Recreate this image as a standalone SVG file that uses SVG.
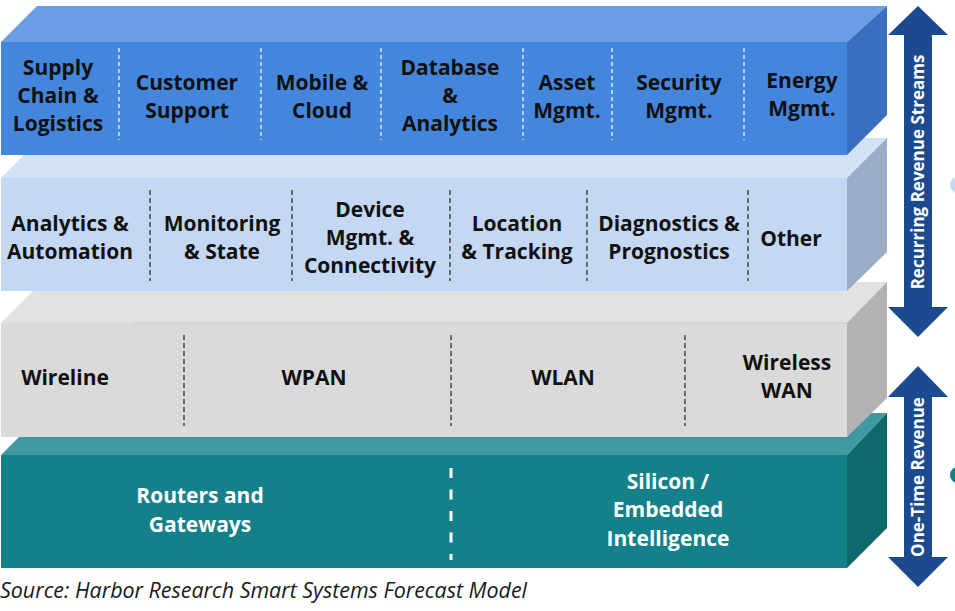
<svg xmlns="http://www.w3.org/2000/svg" width="955" height="611" viewBox="0 0 955 611">
<style>
  .lbl{font-family:"Open Sans","Liberation Sans",sans-serif;font-weight:bold;font-size:21px;fill:#111;text-anchor:middle}
  .wl{fill:#fff}
  .arr{fill:#1b4b8e}
  .atxt{font-family:"Open Sans","Liberation Sans",sans-serif;font-weight:bold;font-size:17px;fill:#fff;text-anchor:middle}
  .dw{stroke:#fff;stroke-width:1.2;stroke-dasharray:4 3;fill:none}
  .dk{stroke:#222;stroke-width:1.2;stroke-dasharray:5 3;fill:none}
  .dt{stroke:#fff;stroke-width:3;stroke-dasharray:10 11.5;fill:none}
  .src{font-family:"Open Sans","Liberation Sans",sans-serif;font-style:italic;font-size:22px;fill:#1a1a1a}
</style>
<rect width="955" height="611" fill="#fff"/>

<!-- dots at right edge -->
<circle cx="958" cy="185" r="8" fill="#c4d8f3"/>
<circle cx="958" cy="475" r="8" fill="#14808a"/>

<!-- Teal layer (bottom) -->
<g id="layer-hardware">
  <polygon points="1,455 43,413 887,413 847,455" fill="#4099a0"/>
  <polygon points="847,455 887,413 887,528 847,568" fill="#0e686c"/>
  <rect x="1" y="455" width="846" height="113" fill="#14808a"/>
  <line class="dt" x1="451" y1="468" x2="451" y2="560"/>
  <g id="node-routers"><text class="lbl wl" x="200"><tspan x="200" y="503">Routers and</tspan><tspan x="200" y="532">Gateways</tspan></text></g>
  <g id="node-silicon"><text class="lbl wl"><tspan x="668" y="489">Silicon /</tspan><tspan x="668" y="517">Embedded</tspan><tspan x="668" y="546">Intelligence</tspan></text></g>
</g>

<!-- Gray layer -->
<g id="layer-network">
  <polygon points="1,323 42,282 887,282 847,323" fill="#e2e2e2"/>
  <polygon points="847,323 887,282 887,398 847,437" fill="#b2b2b2"/>
  <rect x="1" y="323" width="846" height="114" fill="#dadada"/>
  <line x1="133" y1="323" x2="847" y2="323" stroke="#c9cfd4" stroke-width="1"/>
  <line class="dk" x1="184" y1="335" x2="184" y2="426"/>
  <line class="dk" x1="451" y1="335" x2="451" y2="426"/>
  <line class="dk" x1="685" y1="335" x2="685" y2="426"/>
  <g id="node-wireline"><text class="lbl" x="65" y="385">Wireline</text></g>
  <g id="node-wpan"><text class="lbl" x="314" y="385">WPAN</text></g>
  <g id="node-wlan"><text class="lbl" x="563" y="385">WLAN</text></g>
  <g id="node-wwan"><text class="lbl"><tspan x="787" y="370">Wireless</tspan><tspan x="787" y="398">WAN</tspan></text></g>
</g>

<!-- Light blue layer -->
<g id="layer-services">
  <polygon points="1,178 41,138 887,138 847,178" fill="#d1e1f6"/>
  <polygon points="847,178 887,138 887,252 847,291" fill="#9aacc6"/>
  <rect x="1" y="178" width="846" height="113" fill="#c4d8f3"/>
  <line class="dk" x1="150" y1="190" x2="150" y2="281"/>
  <line class="dk" x1="292" y1="190" x2="292" y2="281"/>
  <line class="dk" x1="450" y1="190" x2="450" y2="281"/>
  <line class="dk" x1="587" y1="190" x2="587" y2="281"/>
  <line class="dk" x1="748" y1="190" x2="748" y2="281"/>
  <g id="node-analytics-automation"><text class="lbl"><tspan x="70" y="231">Analytics &amp;</tspan><tspan x="70" y="259">Automation</tspan></text></g>
  <g id="node-monitoring"><text class="lbl"><tspan x="222" y="231">Monitoring</tspan><tspan x="222" y="259">&amp; State</tspan></text></g>
  <g id="node-device-mgmt"><text class="lbl"><tspan x="370" y="217">Device</tspan><tspan x="370" y="245">Mgmt. &amp;</tspan><tspan x="370" y="273">Connectivity</tspan></text></g>
  <g id="node-location"><text class="lbl"><tspan x="517" y="231">Location</tspan><tspan x="517" y="259">&amp; Tracking</tspan></text></g>
  <g id="node-diagnostics"><text class="lbl"><tspan x="669" y="231">Diagnostics &amp;</tspan><tspan x="669" y="259">Prognostics</tspan></text></g>
  <g id="node-other"><text class="lbl" x="791" y="246">Other</text></g>
</g>

<!-- Blue layer (top) -->
<g id="layer-applications">
  <polygon points="1,42 37,6 887,6 847,42" fill="#6b9ee4"/>
  <polygon points="847,42 887,6 887,115 847,155" fill="#3a6ebe"/>
  <rect x="1" y="42" width="846" height="113" fill="#4586dd"/>
  <line class="dw" x1="119" y1="48" x2="119" y2="140"/>
  <line class="dw" x1="261" y1="48" x2="261" y2="140"/>
  <line class="dw" x1="381" y1="48" x2="381" y2="140"/>
  <line class="dw" x1="523" y1="48" x2="523" y2="140"/>
  <line class="dw" x1="612" y1="48" x2="612" y2="140"/>
  <line class="dw" x1="744" y1="48" x2="744" y2="140"/>
  <g id="node-supply-chain"><text class="lbl"><tspan x="58" y="75">Supply</tspan><tspan x="58" y="103">Chain &amp;</tspan><tspan x="58" y="131">Logistics</tspan></text></g>
  <g id="node-customer-support"><text class="lbl"><tspan x="187" y="90">Customer</tspan><tspan x="187" y="118">Support</tspan></text></g>
  <g id="node-mobile-cloud"><text class="lbl"><tspan x="322" y="90">Mobile &amp;</tspan><tspan x="322" y="118">Cloud</tspan></text></g>
  <g id="node-database"><text class="lbl"><tspan x="450" y="75">Database</tspan><tspan x="450" y="103">&amp;</tspan><tspan x="450" y="131">Analytics</tspan></text></g>
  <g id="node-asset"><text class="lbl"><tspan x="567" y="90">Asset</tspan><tspan x="567" y="118">Mgmt.</tspan></text></g>
  <g id="node-security"><text class="lbl"><tspan x="679" y="90">Security</tspan><tspan x="679" y="118">Mgmt.</tspan></text></g>
  <g id="node-energy"><text class="lbl"><tspan x="802" y="88">Energy</tspan><tspan x="802" y="116">Mgmt.</tspan></text></g>
</g>

<!-- Revenue arrows -->
<g id="connectors">
  <g id="arrow-recurring">
    <polygon class="arr" points="918,6 948,35 932,35 932,307 948,307 918,337 888,307 904,307 904,35 888,35"/>
    <text class="atxt" transform="translate(924,172) rotate(-90)">Recurring Revenue Streams</text>
  </g>
  <g id="arrow-onetime">
    <polygon class="arr" points="918,366 948,397 932,397 932,557 948,557 918,587 888,557 904,557 904,397 888,397"/>
    <text class="atxt" transform="translate(924,477) rotate(-90)">One-Time Revenue</text>
  </g>
</g>

<text id="source" class="src" x="0" y="598" textLength="527" lengthAdjust="spacingAndGlyphs">Source: Harbor Research Smart Systems Forecast Model</text>
</svg>
